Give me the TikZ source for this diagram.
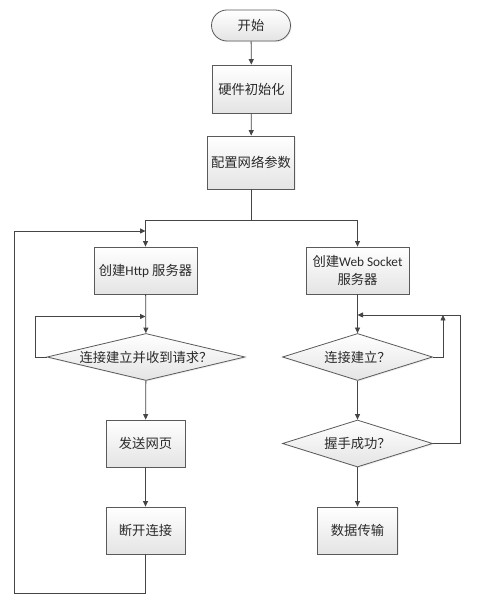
\documentclass[tikz,border=0pt]{standalone}
\usepackage{fontspec}
\setmainfont{Carlito}
\newfontfamily\cjk{Noto Sans CJK SC}
\usetikzlibrary{shapes.geometric,arrows.meta,shadows}
\definecolor{linec}{HTML}{454545}
\definecolor{borderc}{HTML}{5A5A5A}
\definecolor{fillbot}{HTML}{E4E4E4}
\definecolor{textc}{HTML}{2A2A2A}
\tikzset{
  base/.style={draw=borderc,line width=0.8pt,top color=white,bottom color=fillbot,
    text=textc,font=\fontsize{13.3}{17.5}\selectfont,inner sep=0pt,align=center,
    drop shadow={opacity=0.12,shadow xshift=1.2pt,shadow yshift=-1.2pt}},
  procbox/.style={base,rectangle,minimum height=47pt},
  termbox/.style={base,rectangle,rounded corners=15.5pt,minimum width=79pt,minimum height=31pt},
  decbox/.style={base,diamond,minimum height=47pt},
  conn/.style={draw=linec,line width=0.8pt},
  arr/.style={conn,-{Triangle[length=5.5pt,width=5pt]}}
}
\begin{document}
\begin{tikzpicture}[x=1pt,y=1pt]
\useasboundingbox (0,0) rectangle (476,601);
\fill[white] (0,0) rectangle (476,601);
% nodes
\node[termbox] (start) at (251,575.5) {\cjk 开始};
\node[procbox,minimum width=79pt,minimum height=48pt] (init) at (251.5,512) {\cjk 硬件初始化};
\node[procbox,minimum width=87pt,minimum height=53pt] (cfg) at (251,438.5) {\cjk 配置网络参数};
\node[procbox,minimum width=103pt] (http) at (145.5,330.5) {{\cjk 创建}Http {\cjk 服务器}};
\node[procbox,minimum width=103pt] (ws) at (357.5,330.5) {{\cjk 创建}Web Socket\\{\cjk 服务器}};
\node[decbox,minimum width=198pt,aspect=4.1] (d1) at (146,244) {\cjk 连接建立并收到请求？};
\node[decbox,minimum width=150pt,aspect=3.2] (d2) at (357.5,244) {\cjk 连接建立？};
\node[procbox,minimum width=79pt] (send) at (145.5,157.5) {\cjk 发送网页};
\node[procbox,minimum width=79pt] (disc) at (145.5,70.5) {\cjk 断开连接};
\node[decbox,minimum width=150pt,aspect=3.2] (d3) at (357.5,157.5) {\cjk 握手成功？};
\node[procbox,minimum width=80pt] (data) at (357.5,70.5) {\cjk 数据传输};
% helper coordinates
\coordinate (split) at (251,381);
\coordinate (l2) at (145.5,370);
\coordinate (l1) at (145.5,284.5);
\coordinate (r1) at (443,286);
\coordinate (r2) at (357.5,286);
\coordinate (bl) at (14,8);
\coordinate (rt) at (460,286);
% connectors
\draw[arr] (start) -- (init);
\draw[arr] (init) -- (cfg);
\draw[conn] (cfg.south) -- (split);
\draw[arr] (split) -| (http.north);
\draw[arr] (split) -| (ws.north);
\draw[arr] (http) -- (d1);
\draw[arr] (d1.west) -- ++(-11,0) |- (l1);
\draw[arr] (d1) -- (send);
\draw[arr] (send) -- (disc);
\draw[arr] (disc.south) |- (bl) |- (l2);
\draw[arr] (ws) -- (d2);
\draw[arr] (d2.east) -| (r1);
\draw[arr] (d3.east) -| (rt) -- (r2);
\draw[arr] (d2) -- (d3);
\draw[arr] (d3) -- (data);
\end{tikzpicture}
\end{document}
